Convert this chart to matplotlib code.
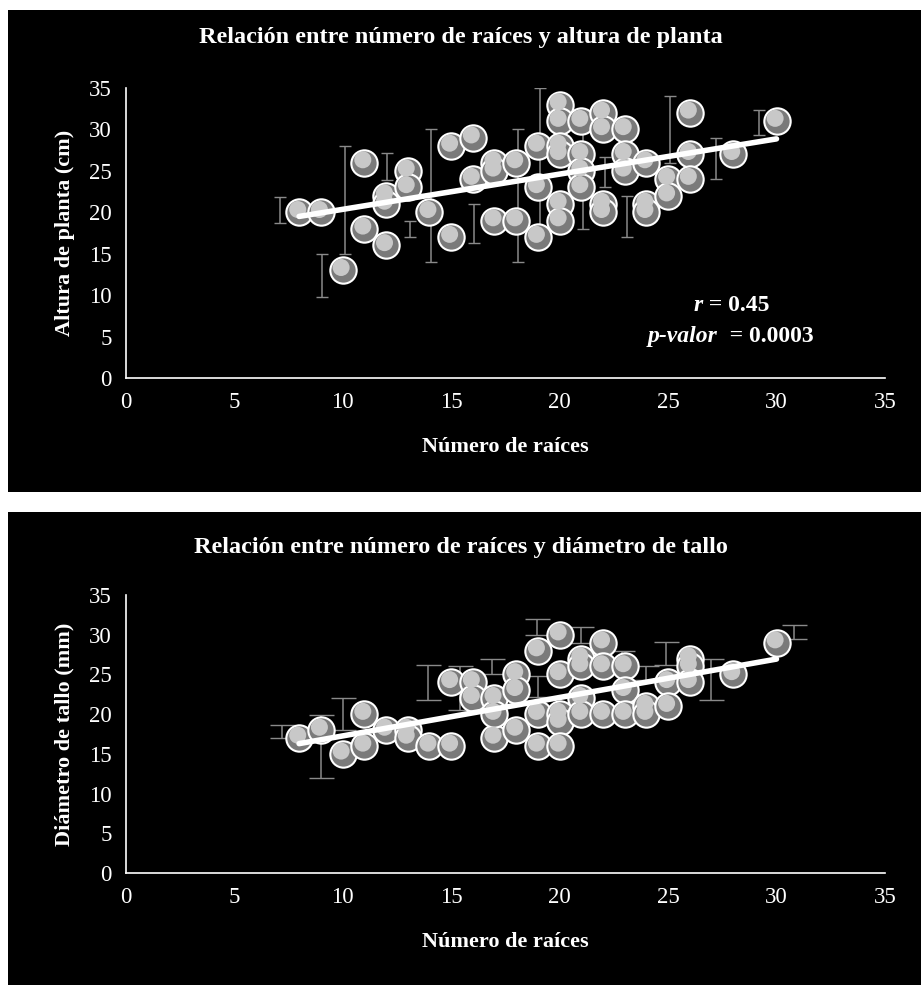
import numpy as np
import matplotlib
matplotlib.use("Agg")
import matplotlib.pyplot as plt
from matplotlib.transforms import ScaledTranslation

plt.rcParams['font.family'] = ['Liberation Serif', 'DejaVu Serif']

# Panel 1: altura de planta
raices_1 = [8, 9, 10, 11, 11, 12, 12, 12, 13, 13, 14, 15, 15, 16, 16, 17, 17, 17,
            18, 18, 19, 19, 19, 20, 20, 20, 20, 20, 20, 21, 21, 21, 21, 22, 22, 22,
            22, 23, 23, 23, 24, 24, 24, 25, 25, 26, 26, 26, 28, 30]
altura = [20, 20, 13, 26, 18, 22, 21, 16, 25, 23, 20, 28, 17, 29, 24, 26, 25, 19,
          26, 19, 28, 23, 17, 33, 31, 28, 27, 21, 19, 31, 27, 25, 23, 32, 30, 21,
          20, 30, 27, 25, 26, 21, 20, 24, 22, 32, 27, 24, 27, 31]
err1_x = [7.1, 9.05, 10.1, 12.05, 13.1, 14.1, 16.06, 18.1, 19.1, 21.1, 22.1, 23.1, 25.1, 27.2, 29.2]
err1_lo = [18.7, 9.8, 15, 23.9, 17, 14, 16.3, 14, 18, 18, 23, 17, 26, 24, 29.3]
err1_hi = [21.9, 15.0, 28, 27.1, 19, 30, 21, 30, 35, 32, 26.7, 22, 34, 29, 32.3]

# Panel 2: diametro de tallo
raices_2 = [8, 9, 10, 11, 11, 12, 13, 13, 14, 15, 15, 16, 16, 17, 17, 17, 18, 18,
            18, 19, 19, 19, 20, 20, 20, 20, 20, 21, 21, 21, 21, 22, 22, 22, 23, 23,
            23, 24, 24, 25, 25, 26, 26, 26, 28, 30]
diametro = [17, 18, 15, 20, 16, 18, 18, 17, 16, 16, 24, 24, 22, 22, 17, 20, 25, 23,
            18, 28, 20, 16, 30, 25, 20, 19, 16, 27, 26, 22, 20, 29, 26, 20, 26, 23,
            20, 21, 20, 24, 21, 27, 26, 24, 25, 29]
err2_x = [7.2, 9.0, 10.0, 13.95, 15.4, 16.9, 18.95, 19.0, 21.0, 22.9, 24.0, 24.9, 27.0, 30.8]
err2_lo = [17, 12, 18, 21.8, 20.5, 25, 30, 22.2, 29, 26, 24.3, 26.2, 21.8, 29.5]
err2_hi = [18.6, 19.9, 22, 26.2, 26, 27, 32, 24.8, 31, 28, 26, 29.1, 27, 31.2]

titles = ["Relación entre número de raíces y altura de planta",
          "Relación entre número de raíces y diámetro de tallo"]
ylabels = ["Altura de planta (cm)", "Diámetro de tallo (mm)"]
xlabel = "Número de raíces"

W, H = 921, 985
fig = plt.figure(figsize=(W / 100, H / 100), dpi=100)
fig.patch.set_facecolor('white')


def px_box(left, top, right, bottom):
    return [left / W, 1 - bottom / H, (right - left) / W, (bottom - top) / H]


def panel(bg_box, ax_box, x, y, ex, elo, ehi, title, ylabel, title_y, xlabel_y, cap):
    bg = fig.add_axes(px_box(*bg_box))
    bg.set_facecolor('black')
    bg.set_xticks([])
    bg.set_yticks([])
    for s in bg.spines.values():
        s.set_visible(False)

    ax = fig.add_axes(px_box(*ax_box))
    ax.set_facecolor('black')
    ax.set_xlim(0, 35)
    ax.set_ylim(0, 35)
    ax.set_xticks(range(0, 36, 5))
    ax.set_yticks(range(0, 36, 5))
    ax.tick_params(colors='white', labelsize=16.5, length=0, pad=10)
    for side in ['top', 'right']:
        ax.spines[side].set_visible(False)
    for side in ['left', 'bottom']:
        ax.spines[side].set_color('white')
        ax.spines[side].set_linewidth(1.2)

    # barras de error (desplazadas como en el original)
    lo = np.array(elo)
    hi = np.array(ehi)
    ax.errorbar(ex, (lo + hi) / 2, yerr=(hi - lo) / 2, fmt='none', ecolor='#8a8a8a',
                elinewidth=1.1, capsize=cap, capthick=1, zorder=2)

    # puntos con brillo
    ax.scatter(x, y, s=360, c='#7a7a7a', edgecolors='white', linewidths=1.5, zorder=3)
    shine = ax.transData + ScaledTranslation(-1 / 72, 2 / 72, fig.dpi_scale_trans)
    ax.scatter(x, y, s=150, c='#c8c8c8', edgecolors='none', zorder=4, transform=shine)

    # linea de tendencia
    m, b = np.polyfit(x, y, 1)
    xs = np.array([min(x), max(x)])
    ax.plot(xs, m * xs + b, color='white', lw=4, zorder=5, solid_capstyle='round')

    fig.text(0.5, 1 - title_y / H, title, color='white', fontsize=17.5,
             fontweight='bold', ha='center', va='center')
    ax.set_ylabel(ylabel, color='white', fontsize=16, fontweight='bold', labelpad=10)
    fig.text((ax_box[0] + ax_box[2]) / 2 / W, 1 - xlabel_y / H, xlabel, color='white',
             fontsize=16, fontweight='bold', ha='center', va='center')
    return ax


ax1 = panel((8, 10, 921, 492), (125.5, 88, 885, 378), raices_1, altura,
            err1_x, err1_lo, err1_hi, titles[0], ylabels[0], 38, 447, 4)
panel((8, 512, 921, 985), (125.5, 595, 885, 873), raices_2, diametro,
      err2_x, err2_lo, err2_hi, titles[1], ylabels[1], 548, 942, 9)

ax1.text(26.6, 8.8, 'r', color='white', fontsize=17, fontweight='bold',
         fontstyle='italic', ha='right', va='center')
ax1.text(26.6, 8.8, ' = 0.45', color='white', fontsize=17, fontweight='bold',
         ha='left', va='center')
ax1.text(27.3, 5.0, 'p-valor', color='white', fontsize=17, fontweight='bold',
         fontstyle='italic', ha='right', va='center')
ax1.text(27.3, 5.0, '  = 0.0003', color='white', fontsize=17, fontweight='bold',
         ha='left', va='center')

fig.savefig('out.png', dpi=100, facecolor='white')
